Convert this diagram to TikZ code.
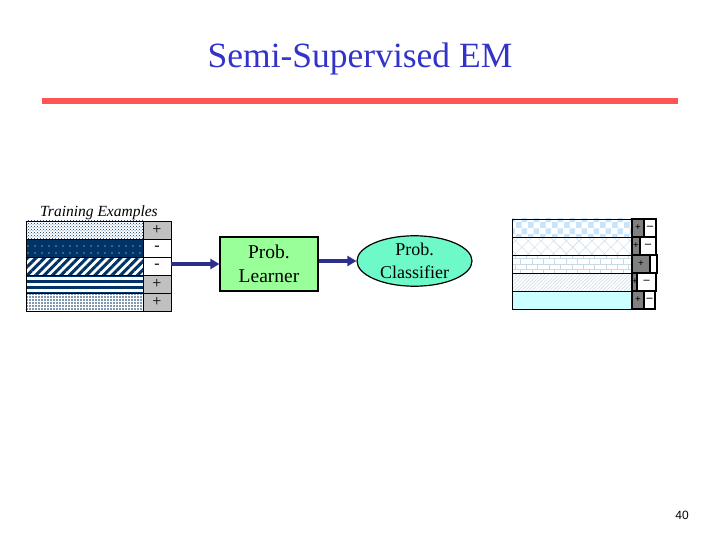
\documentclass[tikz,border=0pt]{standalone}
\usepackage{fontspec}
\setmainfont{Liberation Serif}
\newfontfamily\sansnum{Liberation Sans}
\usetikzlibrary{patterns,patterns.meta,arrows.meta,shapes.geometric}
\definecolor{navy}{RGB}{0,51,102}
\definecolor{titleblue}{RGB}{51,51,204}
\definecolor{redc}{RGB}{255,85,85}
\definecolor{lgreen}{RGB}{153,255,153}
\definecolor{aqua}{RGB}{110,250,200}
\definecolor{lgray}{RGB}{192,192,192}
\definecolor{dgray}{RGB}{128,128,128}
\definecolor{arrowc}{RGB}{45,45,140}
\definecolor{pblue}{RGB}{200,228,250}
\definecolor{pgrayb}{RGB}{200,218,230}
\definecolor{pcyan}{RGB}{204,255,255}
\pgfdeclarepatternformonly{bigchecker}{\pgfpointorigin}{\pgfpoint{12pt}{12pt}}{\pgfpoint{12pt}{12pt}}{%
  \pgfpathrectangle{\pgfpointorigin}{\pgfpoint{6pt}{6pt}}%
  \pgfpathrectangle{\pgfpoint{6pt}{6pt}}{\pgfpoint{6pt}{6pt}}%
  \pgfusepath{fill}}
\begin{document}
\begin{tikzpicture}[x=1pt,y=-1pt,
  cellL/.style={draw=black, line width=0.6pt, minimum width=117pt, minimum height=18pt, inner sep=0pt, outer sep=0pt, anchor=north west},
  lblL/.style={draw=black, line width=0.6pt, minimum width=28pt, minimum height=18pt, inner sep=0pt, outer sep=0pt, anchor=north west, font=\fontsize{16}{16}\selectfont},
  cellR/.style={draw=black, line width=0.8pt, minimum width=120pt, minimum height=18pt, inner sep=0pt, outer sep=0pt, anchor=north west},
  gcell/.style={draw=black, line width=1.5pt, fill=dgray, minimum height=18pt, inner sep=0pt, outer sep=0pt, anchor=north west, font=\fontsize{10}{10}\selectfont\bfseries},
  wcell/.style={draw=black, line width=1.5pt, fill=white, minimum height=18pt, inner sep=0pt, outer sep=0pt, anchor=north west, font=\fontsize{12}{12}\selectfont\bfseries},
  arr/.style={line width=3.5pt, draw=arrowc, -{Triangle[length=9pt,width=10pt]}}
]
\useasboundingbox (0,0) rectangle (720,540);
% title
\node[anchor=base, text=titleblue, font=\fontsize{35.5}{35.5}\selectfont] (title) at (360,68) {Semi-Supervised EM};
\coordinate (rl) at (42,101);
\coordinate (rr) at (678,101);
\draw[line width=6pt, redc] (rl) -- (rr);
% left table
\node[anchor=base, font=\fontsize{15.5}{15.5}\selectfont\itshape] (tlabel) at (99,216) {Training Examples};
\node[cellL, pattern=crosshatch dots, pattern color=navy] (p1) at (26,221) {};
\node[cellL, preaction={fill=navy}, pattern={Dots[distance=7pt,radius=0.7pt]}, pattern color=white] (p2) at (26,239) {};
\node[cellL, preaction={fill=white}, pattern={Lines[angle=45,distance=6pt,line width=3pt]}, pattern color=navy] (p3) at (26,257) {};
\node[cellL, preaction={fill=white}, pattern={Lines[angle=0,distance=6pt,line width=3pt]}, pattern color=navy] (p4) at (26,275) {};
\node[cellL, preaction={fill=white}, pattern={Dots[distance=3pt,radius=0.9pt]}, pattern color=navy] (p5) at (26,293) {};
\node[lblL, fill=lgray] (s1) at (143,221) {+};
\node[lblL, fill=white] (s2) at (143,239) {-};
\node[lblL, fill=white] (s3) at (143,257) {-};
\node[lblL, fill=lgray] (s4) at (143,275) {+};
\node[lblL, fill=lgray] (s5) at (143,293) {+};
% learner and classifier
\node[draw=black, line width=1.2pt, fill=lgreen, minimum width=98pt, minimum height=54pt, inner sep=0pt, align=center, font=\fontsize{19.5}{24}\selectfont] (learner) at (269,264) {Prob.\\Learner};
\node[ellipse, draw=black, line width=1.2pt, fill=aqua, minimum width=115pt, minimum height=46pt, inner sep=0pt, align=center, font=\fontsize{18}{23}\selectfont] (classifier) at (414.5,261) {Prob.\\Classifier};
\draw[arr] (s3.east |- learner.west) -- (learner.west);
\draw[arr] (learner.east |- classifier.west) -- (classifier.west);
% right table
\node[cellR, preaction={fill=white}, pattern=bigchecker, pattern color=pblue] (r1) at (512,219) {};
\node[cellR, preaction={fill=white}, pattern={Hatch[angle=45,distance=9pt,line width=0.4pt]}, pattern color=pgrayb] (r2) at (512,237) {};
\node[cellR, preaction={fill=white}, pattern=bricks, pattern color=pgrayb] (r3) at (512,255) {};
\node[cellR, preaction={fill=white}, pattern={Lines[angle=45,distance=2.5pt,line width=0.5pt]}, pattern color=pgrayb] (r4) at (512,273) {};
\node[cellR, fill=pcyan] (r5) at (512,291) {};
% probability cells
\node[gcell, minimum width=12pt] (g1) at (632,219) {+};
\node[wcell, minimum width=12pt] (w1) at (644,219) {–};
\node[gcell, minimum width=8pt] (g2) at (632,237) {+};
\node[wcell, minimum width=16pt] (w2) at (640,237) {–};
\node[gcell, minimum width=18pt] (g3) at (632,255) {+};
\node[wcell, minimum width=7pt] (w3) at (650,255) {};
\node[gcell, minimum width=5pt] (g4) at (632,273) {+};
\node[wcell, minimum width=19pt] (w4) at (637,273) {–};
\node[gcell, minimum width=12pt] (g5) at (632,291) {+};
\node[wcell, minimum width=11pt] (w5) at (644,291) {–};
% page number
\node[font=\sansnum\fontsize{12}{12}\selectfont] (pnum) at (682,515) {40};
\end{tikzpicture}
\end{document}
